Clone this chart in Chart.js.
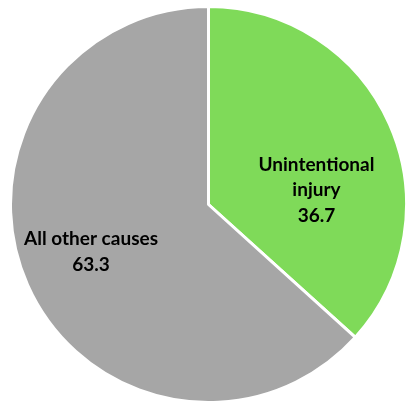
<!DOCTYPE html>
<html>
<head>
<meta charset="utf-8">
<script src="https://cdn.jsdelivr.net/npm/chart.js@4"></script>
<style>
  html, body { margin: 0; padding: 0; background: #ffffff; }
  #wrap { width: 408px; height: 405px; }
</style>
</head>
<body>
<div id="wrap"><canvas id="chartPie"></canvas></div>
<script>
const categories = ["Unintentional injury", "All other causes"];
const values = [36.7, 63.3];
const labelLines = [["Unintentional", "injury"], ["All other causes"]];
const colors = ["#7FDA59", "#A6A6A6"];

// where each label sits: angle (deg, 0 = right, clockwise) and fraction of radius
const labelSpots = [
  { angle: -7.5, dist: 0.55 },
  { angle: 158, dist: 0.64 },
];

const pieLabels = {
  id: "pieLabels",
  afterDatasetsDraw(chart) {
    const ctx = chart.ctx;
    const meta = chart.getDatasetMeta(0);
    ctx.save();
    ctx.font = "bold 19px Lato, 'Liberation Sans', sans-serif";
    ctx.fillStyle = "#000000";
    ctx.textAlign = "center";
    ctx.textBaseline = "middle";
    meta.data.forEach(function (arc, i) {
      const spot = labelSpots[i];
      const a = (spot.angle * Math.PI) / 180;
      const cx = arc.x + Math.cos(a) * arc.outerRadius * spot.dist;
      const cy = arc.y + Math.sin(a) * arc.outerRadius * spot.dist;
      const lines = labelLines[i].concat([values[i].toFixed(1)]);
      const lh = 25.5;
      const top = cy - ((lines.length - 1) * lh) / 2;
      lines.forEach(function (t, j) {
        ctx.fillText(t, cx, top + j * lh);
      });
    });
    ctx.restore();
  },
};

const configPie = {
  type: "pie",
  data: {
    labels: categories,
    datasets: [
      {
        data: values,
        backgroundColor: colors,
        borderColor: "#ffffff",
        borderWidth: 3,
      },
    ],
  },
  options: {
    responsive: true,
    maintainAspectRatio: false,
    animation: false,
    layout: { padding: { left: 9, top: 4, right: 0, bottom: 0 } },
    plugins: {
      legend: { display: false },
      tooltip: { enabled: false },
    },
  },
  plugins: [pieLabels],
};

var chartPie = new Chart(document.getElementById("chartPie"), configPie);
</script>
</body>
</html>
